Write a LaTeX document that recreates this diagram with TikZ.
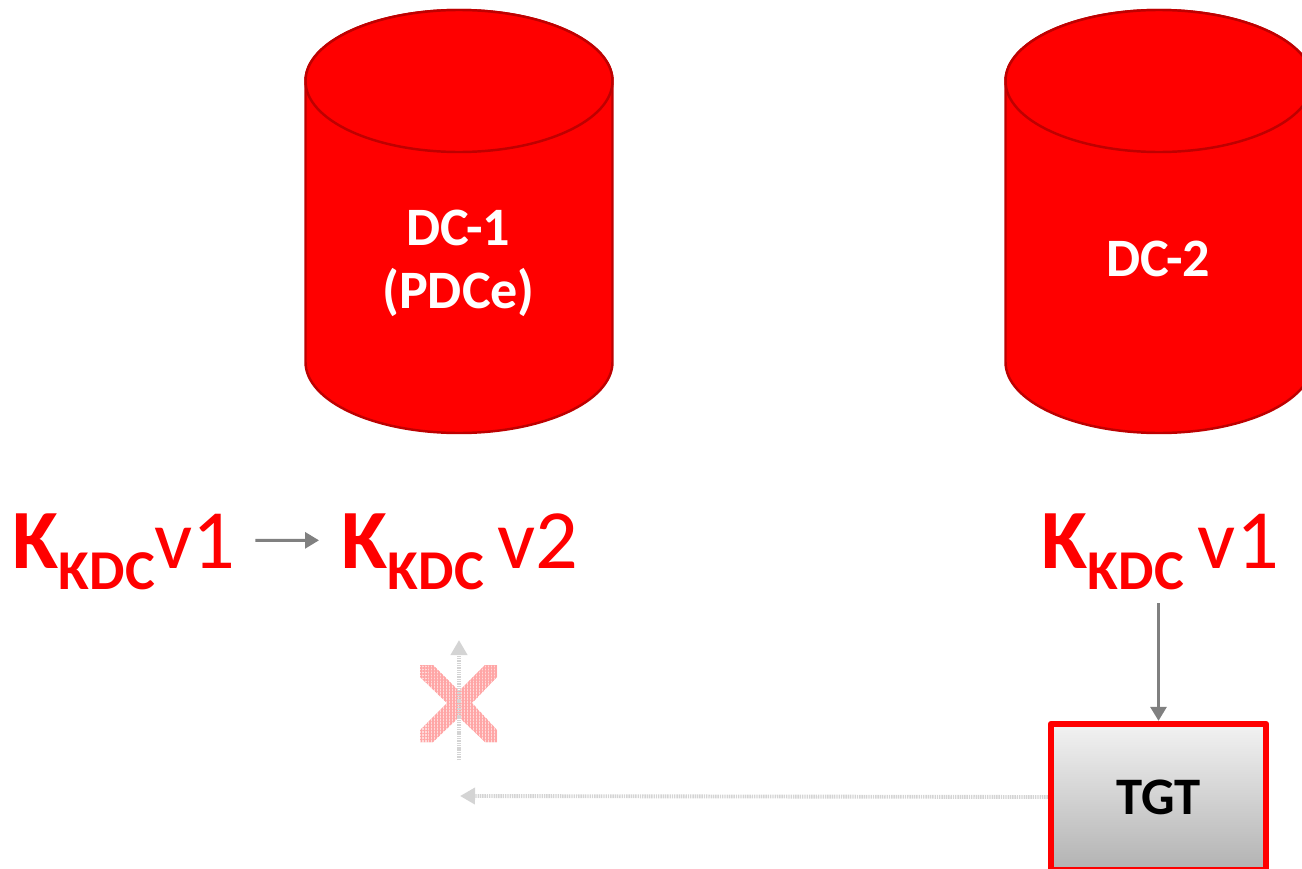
\documentclass[tikz,border=0pt]{standalone}
\usepackage{fontspec}
\setmainfont{Carlito}
\usetikzlibrary{arrows.meta,patterns.meta}
\definecolor{dcred}{RGB}{255,0,0}
\definecolor{dcedge}{RGB}{190,0,0}
\definecolor{tipgray}{RGB}{128,128,128}
\newcommand{\kkdc}{{\fontsize{24}{24}\selectfont\bfseries K}\raisebox{-0.21cm}{\fontsize{16}{16}\selectfont\bfseries KDC}}
\tikzstyle{dc} = [draw=dcedge,line width=0.7pt,fill=dcred]
\tikzstyle{dclabel} = [text=white,font=\fontsize{15.4}{18}\selectfont\bfseries,align=center]
\tikzstyle{key} = [text=dcred,font=\fontsize{24}{24}\selectfont,inner sep=0.24cm,anchor=base west]
\tikzstyle{arrow} = [line width=0.85pt,-{Triangle[length=0.14cm,width=0.16cm]},color=tipgray]
\tikzstyle{ghost} = [line width=1.1pt,-{Triangle[length=0.15cm,width=0.16cm]},color=gray!34,dash pattern=on 0.4pt off 0.25pt]
\tikzstyle{mesh} = [pattern={Lines[angle=0,distance=0.85pt,line width=0.4pt]},pattern color=red!35]

\begin{document}
\begin{tikzpicture}
\clip (0,0) rectangle (13.02,8.68);

% the two cans
\foreach \x in {4.59,11.59} {
  \draw[dc] (\x-1.535,7.87) -- (\x-1.535,5.06) arc[start angle=180,end angle=360,x radius=1.535,y radius=0.71] -- (\x+1.535,7.87) arc[start angle=0,end angle=180,x radius=1.535,y radius=0.71] -- cycle;
  \draw[dc] (\x,7.87) ellipse (1.535 and 0.71);
}
\node[dclabel] (name1) at (4.585,6.05) {DC-1\\(PDCe)};
\node[dclabel] (name2) at (11.585,6.09) {DC-2};

\node[key] (kv1) at (-0.12,3.00) {\kkdc v1};
\node[key] (kv2) at (3.17,3.00) {\kkdc\,v2};
\node[key] (kv3) at (10.17,3.00) {\kkdc\,v1};

\node[draw=dcred,line width=1.8pt,line join=round,top color=gray!10,bottom color=gray!60,minimum width=2.15cm,minimum height=1.46cm,font=\fontsize{15}{15}\selectfont\bfseries,text=black] (tgt) at (11.585,0.71) {TGT};

\coordinate (up1) at (4.59,1.08);
\coordinate (up2) at (4.59,2.28);
\coordinate (left1) at (4.60,0.72);

% crossed out mark
\def\crosspath{(4.20,2.03) -- (4.33,2.03) -- (4.59,1.77) -- (4.85,2.03) -- (4.97,2.03) -- (4.97,1.91) -- (4.72,1.65) -- (4.97,1.38) -- (4.97,1.26) -- (4.85,1.26) -- (4.59,1.51) -- (4.33,1.26) -- (4.20,1.26) -- (4.20,1.38) -- (4.47,1.65) -- (4.20,1.91) -- cycle}
\fill[red!15] \crosspath;
\fill[mesh] \crosspath;
\fill[mesh,pattern={Lines[angle=90,distance=0.85pt,line width=0.4pt]}] \crosspath;

\draw[arrow] ([xshift=-0.05cm,yshift=0.11cm]kv1.east) -- ([xshift=0.02cm,yshift=0.11cm]kv2.west);
\draw[arrow] ([yshift=0.11cm]kv3.south -| tgt.north) -- (tgt.north);
\draw[ghost] (up1) -- (up2);
\draw[ghost] (tgt.west) -- (left1);
\end{tikzpicture}
\end{document}
